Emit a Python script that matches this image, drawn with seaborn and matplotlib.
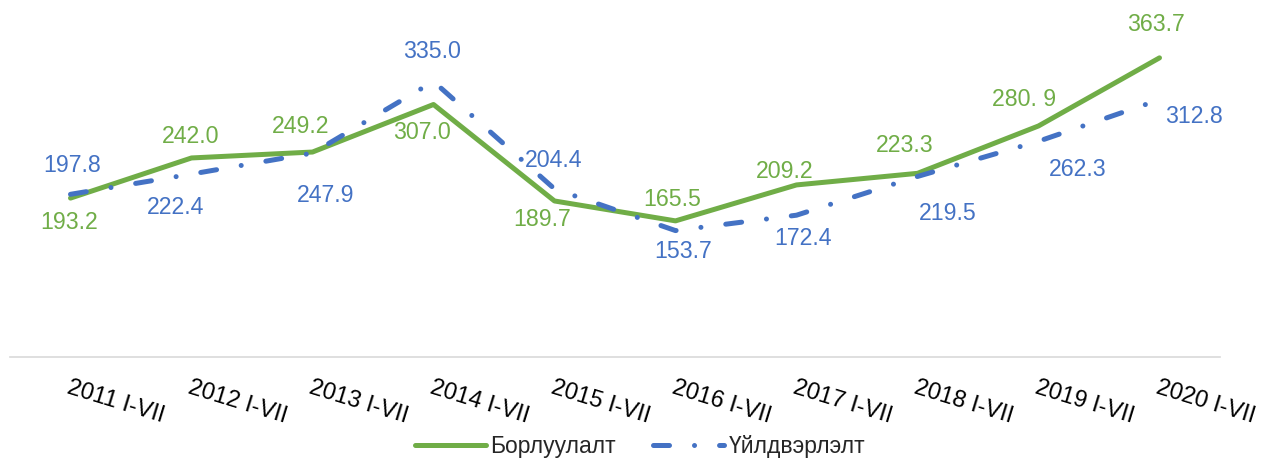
import numpy as np
import matplotlib
matplotlib.use("Agg")
import matplotlib.pyplot as plt
import seaborn as sns
import pandas as pd

periods = [
    "2011 I-VII", "2012 I-VII", "2013 I-VII", "2014 I-VII", "2015 I-VII",
    "2016 I-VII", "2017 I-VII", "2018 I-VII", "2019 I-VII", "2020 I-VII",
]
sales = [193.2, 242.0, 249.2, 307.0, 189.7, 165.5, 209.2, 223.3, 280.9, 363.7]
production = [197.8, 222.4, 247.9, 335.0, 204.4, 153.7, 172.4, 219.5, 262.3, 312.8]
sales_labels = ["193.2", "242.0", "249.2", "307.0", "189.7",
                "165.5", "209.2", "223.3", "280. 9", "363.7"]
production_labels = ["197.8", "222.4", "247.9", "335.0", "204.4",
                     "153.7", "172.4", "219.5", "262.3", "312.8"]
series_names = ["Борлуулалт", "Үйлдвэрлэлт"]

# label offsets in pixels (dx, dy), dy positive = downwards on screen
sales_offsets = [(-1, 24), (-1, -21), (-12, -26), (-12, 28), (-12, 19),
                 (-3, -21), (-12, -13), (-13, -28), (-14, -26), (-4, -33)]
production_offsets = [(2, -29), (-16, 33), (13, 42), (-1, -30), (-1, -28),
                      (8, 21), (7, 23), (30, 37), (39, 28), (34, 17)]

GREEN = "#70AD47"
BLUE = "#4472C4"

sns.set_style("white")
plt.rcParams["font.family"] = ["Liberation Sans", "DejaVu Sans"]

df = pd.DataFrame(
    {
        "period": periods * 2,
        "value": sales + production,
        "series": [series_names[0]] * len(periods) + [series_names[1]] * len(periods),
    }
)

fig = plt.figure(figsize=(12.65, 4.63), dpi=100)
ax = fig.add_axes([10 / 1265, 106 / 463, 1210 / 1265, 329 / 463])

sns.lineplot(
    data=df,
    x="period",
    y="value",
    hue="series",
    style="series",
    palette={series_names[0]: GREEN, series_names[1]: BLUE},
    dashes={series_names[0]: "", series_names[1]: (3.2, 5, 0.01, 5)},
    linewidth=3.6,
    sort=False,
    legend=False,
    ax=ax,
)
for line in ax.get_lines():
    line.set_dash_capstyle("round")
    line.set_solid_capstyle("round")

# data labels
for vals, texts, offs, color in [
    (sales, sales_labels, sales_offsets, GREEN),
    (production, production_labels, production_offsets, BLUE),
]:
    for i, (v, t, (dx, dy)) in enumerate(zip(vals, texts, offs)):
        ax.annotate(
            t,
            xy=(i, v),
            xytext=(dx, -dy),
            textcoords="offset pixels",
            ha="center",
            va="center",
            fontsize=16.7,
            color=color,
        )

ax.set_xlim(-0.5, len(periods) - 0.5)
ax.set_ylim(0, 400)
ax.set_xlabel("")
ax.set_ylabel("")
ax.set_yticks([])
ax.set_xticks(range(len(periods)))
ax.set_xticklabels(periods, rotation=-17, ha="left", va="top",
                   rotation_mode="anchor", fontsize=17, color="black")
ax.tick_params(axis="x", length=0, pad=14)
for side in ["top", "right", "left"]:
    ax.spines[side].set_visible(False)
ax.spines["bottom"].set_color("#d9d9d9")
ax.spines["bottom"].set_linewidth(1.2)

handles = ax.get_lines()[:2]
fig.legend(
    handles,
    series_names,
    loc="center",
    bbox_to_anchor=(640 / 1265, 1 - 447 / 463),
    ncol=2,
    frameon=False,
    fontsize=16.5,
    handlelength=3.1,
    handletextpad=0.2,
    columnspacing=1.6,
)

fig.savefig("out.png", dpi=100)
